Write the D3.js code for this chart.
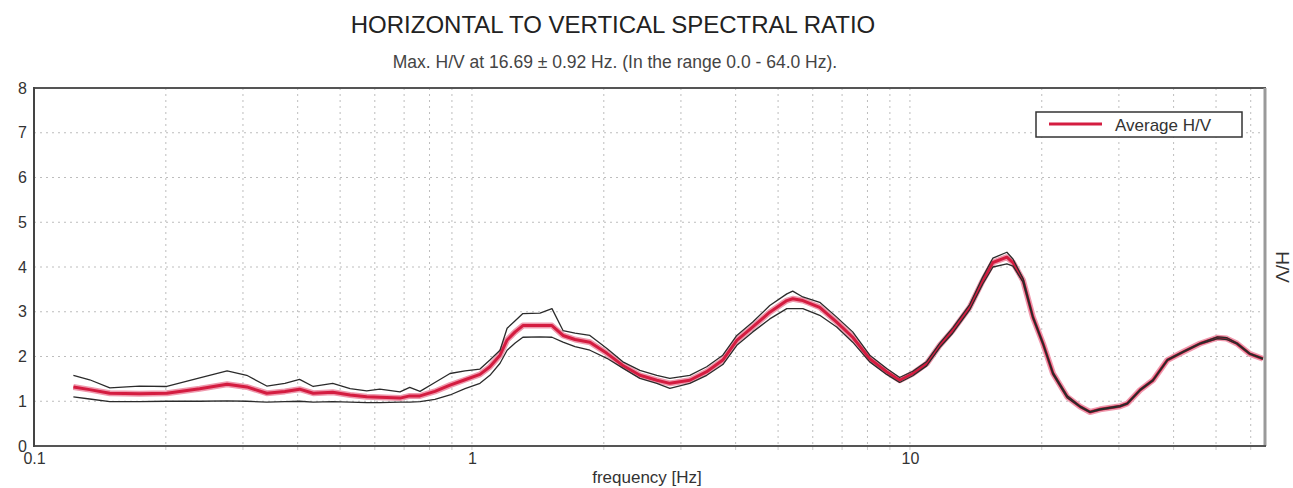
<!DOCTYPE html>
<html>
<head>
<meta charset="utf-8">
<script src="https://cdn.jsdelivr.net/npm/d3@7"></script>
<style>
  html, body { margin: 0; padding: 0; background: #fff; }
  svg { display: block; font-family: Arial, "Liberation Sans", sans-serif; }
</style>
</head>
<body>
<svg id="chart" width="1293" height="488"></svg>
<script>
// ---- data ----
const freq = [0.123,0.134,0.149,0.174,0.201,0.239,0.276,0.306,0.340,0.374,0.404,0.434,0.481,0.527,0.575,0.616,0.685,0.721,0.761,0.823,0.891,0.964,1.043,1.099,1.159,1.203,1.255,1.307,1.430,1.523,1.614,1.719,1.859,2.033,2.211,2.418,2.643,2.830,3.143,3.436,3.739,4.025,4.377,4.786,5.235,5.40,5.695,6.224,6.805,7.402,8.095,8.849,9.474,10.15,10.92,11.70,12.52,13.69,14.67,15.47,16.65,17.19,18.13,19.09,20.13,21.22,22.86,24.47,25.78,27.19,30.22,31.36,33.53,35.9,38.7,42.0,46.0,50.4,52.9,55.8,59.7,64.0];
const avgHV = [1.32,1.26,1.18,1.17,1.18,1.28,1.38,1.32,1.18,1.22,1.27,1.18,1.20,1.14,1.10,1.09,1.07,1.12,1.12,1.22,1.36,1.48,1.60,1.77,2.03,2.37,2.55,2.69,2.69,2.69,2.47,2.38,2.32,2.07,1.80,1.58,1.47,1.40,1.47,1.66,1.92,2.36,2.66,2.99,3.25,3.29,3.25,3.10,2.77,2.43,1.95,1.66,1.47,1.62,1.84,2.25,2.58,3.10,3.70,4.10,4.22,4.10,3.70,2.88,2.29,1.62,1.10,0.88,0.76,0.82,0.89,0.95,1.25,1.47,1.92,2.10,2.29,2.42,2.40,2.29,2.06,1.95];
const upperHV = [1.58,1.48,1.30,1.34,1.33,1.52,1.68,1.58,1.34,1.40,1.49,1.33,1.40,1.28,1.23,1.27,1.21,1.31,1.22,1.42,1.62,1.68,1.72,1.92,2.14,2.63,2.80,2.96,2.97,3.07,2.58,2.52,2.47,2.18,1.88,1.69,1.58,1.51,1.58,1.77,2.03,2.47,2.77,3.14,3.40,3.46,3.33,3.21,2.88,2.55,2.03,1.73,1.53,1.67,1.89,2.30,2.64,3.16,3.78,4.20,4.33,4.18,3.74,2.90,2.31,1.64,1.12,0.89,0.77,0.83,0.90,0.96,1.26,1.48,1.93,2.11,2.30,2.44,2.42,2.30,2.07,1.96];
const lowerHV = [1.10,1.05,0.99,0.99,1.00,1.00,1.01,1.00,0.98,0.99,1.00,0.98,0.99,0.98,0.97,0.97,0.98,0.98,0.99,1.04,1.14,1.28,1.40,1.58,1.85,2.14,2.30,2.43,2.44,2.43,2.32,2.22,2.14,1.96,1.74,1.51,1.40,1.29,1.40,1.58,1.82,2.25,2.55,2.84,3.07,3.07,3.07,2.92,2.66,2.32,1.88,1.60,1.42,1.57,1.79,2.20,2.52,3.04,3.62,4.00,4.07,4.02,3.66,2.86,2.27,1.60,1.08,0.87,0.75,0.81,0.88,0.94,1.24,1.46,1.91,2.09,2.28,2.40,2.38,2.28,2.05,1.94];
const xTickLabels = [0.1, 1, 10];
const yTickLabels = [0,1,2,3,4,5,6,7,8];
const xGrid = [0.2,0.3,0.4,0.5,0.6,0.7,0.8,0.9,1,2,3,4,5,6,7,8,9,10,20,30,40,50,60];
const yGrid = [1,2,3,4,5,6,7];
const titleText = "HORIZONTAL TO VERTICAL SPECTRAL RATIO";
const subtitleText = "Max. H/V at 16.69 \u00b1 0.92 Hz.  (In the range 0.0 - 64.0 Hz).";
const xLabel = "frequency [Hz]";
const yLabel = "H/V";
const legendLabel = "Average H/V";

// ---- layout ----
const L = 34, R = 1263, T = 88, B = 446;
const svg = d3.select("#chart");
const x = d3.scaleLog().domain([0.1, 64]).range([L, R]);
const y = d3.scaleLinear().domain([0, 8]).range([B, T]);

// grid
const g = svg.append("g");
g.selectAll("line.vg").data(xGrid).join("line")
  .attr("x1", d => x(d)).attr("x2", d => x(d))
  .attr("y1", T).attr("y2", B)
  .attr("stroke", "#bdbdbd").attr("stroke-width", 1).attr("stroke-dasharray", "2,4");
g.selectAll("line.hg").data(yGrid).join("line")
  .attr("x1", L).attr("x2", R)
  .attr("y1", d => y(d)).attr("y2", d => y(d))
  .attr("stroke", "#bdbdbd").attr("stroke-width", 1).attr("stroke-dasharray", "2,4");
// small ticks under bottom axis
g.selectAll("line.tk").data(xGrid).join("line")
  .attr("x1", d => x(d)).attr("x2", d => x(d))
  .attr("y1", B).attr("y2", B + 4)
  .attr("stroke", "#ccc").attr("stroke-width", 1);

// curves
const pts = freq.map((f, i) => ({f, a: avgHV[i], u: upperHV[i], l: lowerHV[i]}));
const lineA = d3.line().x(d => x(d.f)).y(d => y(d.a));
const lineU = d3.line().x(d => x(d.f)).y(d => y(d.u));
const lineL = d3.line().x(d => x(d.f)).y(d => y(d.l));
svg.append("path").datum(pts).attr("d", lineA).attr("fill", "none")
  .attr("stroke", "#ef9aae").attr("stroke-width", 6).attr("stroke-linejoin", "round");
svg.append("path").datum(pts).attr("d", lineA).attr("fill", "none")
  .attr("stroke", "#d41c40").attr("stroke-width", 3).attr("stroke-linejoin", "round");
svg.append("path").datum(pts).attr("d", lineU).attr("fill", "none")
  .attr("stroke", "#2b2b2b").attr("stroke-width", 1.3).attr("stroke-linejoin", "round");
svg.append("path").datum(pts).attr("d", lineL).attr("fill", "none")
  .attr("stroke", "#2b2b2b").attr("stroke-width", 1.3).attr("stroke-linejoin", "round");

// frame
svg.append("line").attr("x1", L).attr("x2", R + 3).attr("y1", T).attr("y2", T)
  .attr("stroke", "#555").attr("stroke-width", 2);
svg.append("line").attr("x1", R + 2).attr("x2", R + 2).attr("y1", T).attr("y2", B)
  .attr("stroke", "#9a9a9a").attr("stroke-width", 3);
svg.append("line").attr("x1", L).attr("x2", R + 3).attr("y1", B).attr("y2", B)
  .attr("stroke", "#555").attr("stroke-width", 2);
svg.append("line").attr("x1", L).attr("x2", L).attr("y1", T - 1).attr("y2", B + 1)
  .attr("stroke", "#444").attr("stroke-width", 2);

// axes (labels only)
const xAxis = svg.append("g").attr("transform", `translate(0,${B})`)
  .call(d3.axisBottom(x).tickValues(xTickLabels).tickSize(0).tickPadding(7)
    .tickFormat(d => String(d)));
xAxis.select(".domain").remove();
xAxis.selectAll("text").attr("font-size", 16).attr("fill", "#333")
  .attr("font-family", "Arial, 'Liberation Sans', sans-serif");

const yAxis = svg.append("g").attr("transform", `translate(${L},0)`)
  .call(d3.axisLeft(y).tickValues(yTickLabels).tickSize(0).tickPadding(7)
    .tickFormat(d3.format("d")));
yAxis.select(".domain").remove();
yAxis.selectAll("text").attr("font-size", 16).attr("fill", "#333")
  .attr("font-family", "Arial, 'Liberation Sans', sans-serif");

// titles
svg.append("text").attr("x", 613).attr("y", 33).attr("text-anchor", "middle")
  .attr("font-size", 24).attr("fill", "#222").text(titleText);
svg.append("text").attr("x", 615).attr("y", 68).attr("text-anchor", "middle")
  .attr("font-size", 17.5).attr("fill", "#444").text(subtitleText);
svg.append("text").attr("x", 647).attr("y", 483).attr("text-anchor", "middle")
  .attr("font-size", 17).attr("fill", "#333").text(xLabel);
svg.append("text").attr("transform", "translate(1276,267) rotate(90)")
  .attr("text-anchor", "middle").attr("font-size", 19).attr("fill", "#333").text(yLabel);

// legend
const lg = svg.append("g");
lg.append("rect").attr("x", 1036).attr("y", 112).attr("width", 206).attr("height", 25)
  .attr("fill", "#fff").attr("stroke", "#333").attr("stroke-width", 1.5);
lg.append("line").attr("x1", 1049).attr("x2", 1102).attr("y1", 124).attr("y2", 124)
  .attr("stroke", "#d41c40").attr("stroke-width", 3);
lg.append("text").attr("x", 1115).attr("y", 130.5).attr("font-size", 17)
  .attr("fill", "#333").text(legendLabel);
</script>
</body>
</html>
